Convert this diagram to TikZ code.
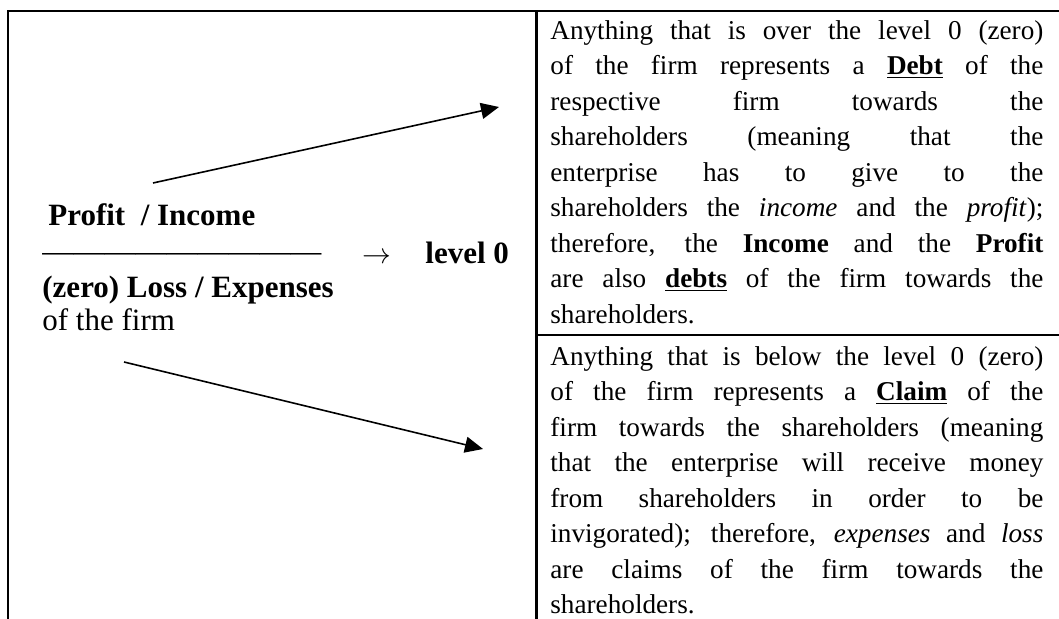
\documentclass[tikz,border=0pt]{standalone}
\usepackage{fontspec}
\setmainfont{Liberation Serif}
\usetikzlibrary{arrows.meta,positioning}

\newcommand{\ulbf}[1]{\underline{\textbf{#1}}}

\begin{document}
\begin{tikzpicture}[
    x=0.5pt, y=-0.5pt,
    frame/.style={line width=1.3pt},
    para/.style={anchor=north west, inner sep=0pt, text width=246.5pt, align=justify,
                 font=\fontsize{13.6}{17.75}\selectfont},
    lbl/.style={anchor=base west, inner sep=0pt, font=\fontsize{15.5}{18}\selectfont\bfseries},
    plainlbl/.style={lbl, font=\fontsize{15.5}{18}\selectfont},
    arrow/.style={-{Triangle[length=9pt,width=8pt]}, line width=0.8pt}
  ]
  \useasboundingbox (0,0) rectangle (1059,619);

  % --- table lines ---
  \draw[frame] (1059,11) -- (8,11) -- (8,619);
  \draw[frame] (536.5,11) -- (536.5,619);
  \draw[frame] (536.5,335) -- (1059,335);

  % --- left cell ---
  \node[lbl] (profit) at (48,226) {Profit\ \ / Income};
  \node[plainlbl] (bar) at (42,262) {—————————};
  \node[lbl] (to) at (362,264) {$\rightarrow$};
  \node[lbl] (level) at (425,264) {level 0};
  \node[lbl] (loss) at (42,298) {(zero) Loss / Expenses};
  \node[plainlbl] (firm) at (42,331) {of the firm};

  % --- right cells ---
  \node[para] (debt) at (550,20) {\hbadness=10000
    Anything that is over the level 0 (zero) \linebreak
    of the firm represents a \ulbf{Debt} of the \linebreak
    respective firm towards the \linebreak
    shareholders (meaning that the \linebreak
    enterprise has to give to the \linebreak
    shareholders the \textit{income} and the \textit{profit}); \linebreak
    therefore, the \textbf{Income} and the \textbf{Profit} \linebreak
    are also \ulbf{debts} of the firm towards the \linebreak
    shareholders.};
  \node[para] (claim) at (550,346) {\hbadness=10000
    Anything that is below the level 0 (zero) \linebreak
    of the firm represents a \ulbf{Claim} of the \linebreak
    firm towards the shareholders (meaning \linebreak
    that the enterprise will receive money \linebreak
    from shareholders in order to be \linebreak
    invigorated); therefore, \textit{expenses} and \textit{loss} \linebreak
    are claims of the firm towards the \linebreak
    shareholders.};

  % arrows to the two cells
  \coordinate (up0) at (153,183);
  \coordinate (up1) at (499,107);
  \coordinate (dn0) at (124,362);
  \coordinate (dn1) at (483,449);
  \draw[arrow] (up0) -- (up1);
  \draw[arrow] (dn0) -- (dn1);
\end{tikzpicture}
\end{document}
